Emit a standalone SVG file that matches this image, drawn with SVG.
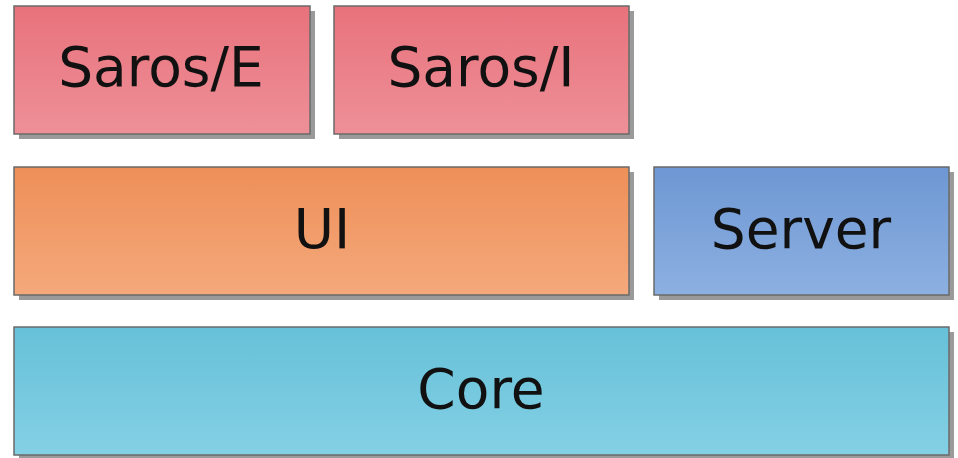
<svg xmlns="http://www.w3.org/2000/svg" width="958" height="458" viewBox="0 0 958 458">
<defs>
<linearGradient id="gSaros" x1="0" y1="0" x2="0" y2="1"><stop offset="0" stop-color="#e8727c"/><stop offset="1" stop-color="#ee9098"/></linearGradient>
<linearGradient id="gUI" x1="0" y1="0" x2="0" y2="1"><stop offset="0" stop-color="#ee8f58"/><stop offset="1" stop-color="#f4a97c"/></linearGradient>
<linearGradient id="gServer" x1="0" y1="0" x2="0" y2="1"><stop offset="0" stop-color="#6e97d3"/><stop offset="1" stop-color="#8cb0e1"/></linearGradient>
<linearGradient id="gCore" x1="0" y1="0" x2="0" y2="1"><stop offset="0" stop-color="#66c1d8"/><stop offset="1" stop-color="#84d0e5"/></linearGradient>
</defs>
<style>
.shadow{fill:#9a9a9a}
.box{stroke:#6a6a6a;stroke-width:1.5}
.label{font-family:"DejaVu Sans",Verdana,sans-serif;font-size:55px;fill:#111;text-anchor:middle}
</style>
<rect width="958" height="458" fill="#ffffff"/>
<g id="saros-e">
<rect class="shadow" x="19" y="11" width="296" height="128"/>
<rect class="box" x="14" y="6" width="296" height="128" fill="url(#gSaros)"/>
<text class="label" x="161" y="86">Saros/E</text>
</g>
<g id="saros-i">
<rect class="shadow" x="339" y="11" width="295" height="128"/>
<rect class="box" x="334" y="6" width="295" height="128" fill="url(#gSaros)"/>
<text class="label" x="481" y="86">Saros/I</text>
</g>
<g id="ui">
<rect class="shadow" x="19" y="172" width="615" height="128"/>
<rect class="box" x="14" y="167" width="615" height="128" fill="url(#gUI)"/>
<text class="label" x="322" y="248">UI</text>
</g>
<g id="server">
<rect class="shadow" x="659" y="172" width="295" height="128"/>
<rect class="box" x="654" y="167" width="295" height="128" fill="url(#gServer)"/>
<text class="label" x="801" y="248">Server</text>
</g>
<g id="core">
<rect class="shadow" x="19" y="332" width="935" height="128"/>
<rect class="box" x="14" y="327" width="935" height="128" fill="url(#gCore)"/>
<text class="label" x="481" y="408">Core</text>
</g>
<g id="connectors"></g>
</svg>
